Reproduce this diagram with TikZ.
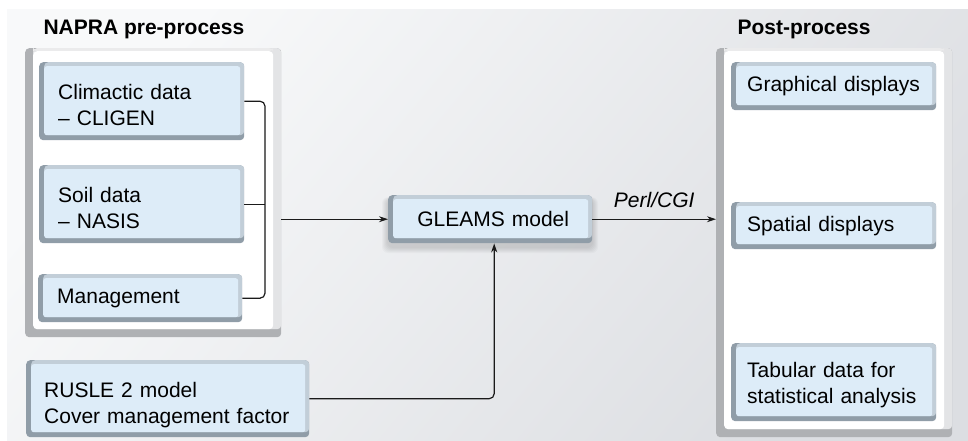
\documentclass[tikz,border=0pt]{standalone}
\usepackage{fontspec}
\setmainfont{Liberation Sans}
\usetikzlibrary{arrows.meta,calc}

\definecolor{boxfill}{HTML}{DDECF8}
\definecolor{bevdark}{HTML}{909DA8}
\definecolor{bevlight}{HTML}{C2CED8}
\definecolor{framedark}{HTML}{AFB1B4}
\definecolor{framelight}{HTML}{E3E4E6}
\definecolor{frametop}{HTML}{EBEBEC}
\definecolor{bgtl}{HTML}{F8F9FA}
\definecolor{bgbr}{HTML}{DCDEE2}
\definecolor{ink}{HTML}{1A1A1A}

% invisible strut that lowers the first text line of a box
\newcommand\leadstrut[1]{\rule{0pt}{#1}}

\tikzset{
  % bevelled light-blue box: dark left/bottom edge, light top/right edge
  bbox/.style={rounded corners=4pt, fill=bevdark, inner ysep=0pt,
    align=left, anchor=north west, text=black,
    font=\fontsize{21}{26}\selectfont,
    path picture={
      \fill[bevlight] ([xshift=5pt]path picture bounding box.north west)
        rectangle ([yshift=5pt]path picture bounding box.south east);
      \fill[boxfill, rounded corners=2.5pt]
        ([xshift=5pt,yshift=-4pt]path picture bounding box.north west)
        rectangle ([xshift=-4pt,yshift=5pt]path picture bounding box.south east);
    }},
  % white panel with a grey frame
  panel/.style={rounded corners=4pt, fill=framedark, inner sep=0pt,
    anchor=north west,
    path picture={
      \fill[framelight] ([xshift=8pt]path picture bounding box.north west)
        rectangle ([yshift=8pt]path picture bounding box.south east);
      \fill[frametop] ([xshift=8pt]path picture bounding box.north west)
        rectangle ([xshift=-8pt,yshift=-3pt]path picture bounding box.north east);
      \fill[white]
        ([xshift=8pt,yshift=-3pt]path picture bounding box.north west)
        rectangle ([xshift=-8pt,yshift=8pt]path picture bounding box.south east);
    }},
  heading/.style={anchor=base west, font=\bfseries\fontsize{21}{25}\selectfont},
  conn/.style={draw=ink, line width=1.2pt},
  arr/.style={conn, -{Stealth[length=9pt,width=6pt]}},
}

\begin{document}
\begin{tikzpicture}[x=1pt,y=-1pt]
  \useasboundingbox (0,0) rectangle (968,441);
  % backdrop
  \shade[shading=axis, top color=bgtl, bottom color=bgbr, shading angle=50]
    (7,10) rectangle (968,441);

  % panels
  \node[panel, minimum width=256pt, minimum height=289pt] (pre) at (25,48) {};
  \node[panel, minimum width=236pt, minimum height=389pt] (post) at (716,48) {};

  \node[heading] (preh) at (40,35) {NAPRA pre-process};
  \node[heading] (posth) at (734,35) {Post-process};

  % pre-process inputs
  \node[bbox, inner xsep=19pt, text width=167pt, minimum width=205pt, minimum height=78pt]
    (clim) at (39,62) {\leadstrut{22pt}Climactic data\\– CLIGEN};
  \node[bbox, inner xsep=19pt, text width=167pt, minimum width=205pt, minimum height=78pt]
    (soil) at (39,165) {\leadstrut{22pt}Soil data\\– NASIS};
  \node[bbox, inner xsep=19pt, text width=166pt, minimum width=204pt, minimum height=48pt]
    (mgmt) at (38,274) {Management};

  \node[bbox, inner xsep=18pt, text width=247pt, minimum width=283pt, minimum height=77pt]
    (rusle) at (26,360) {\leadstrut{28pt}RUSLE 2 model\\Cover management factor};

  % soft shadow under the model box
  \foreach \g in {1,...,6}{
    \fill[black, opacity=0.025, rounded corners=6pt]
      (388-\g,199-\g*0.3) rectangle (592+\g,247+\g);
  }
  \node[bbox, align=center, inner xsep=18pt, text width=168pt, minimum width=204pt, minimum height=48pt]
    (gleams) at (388,195) {\hspace*{6pt}GLEAMS model};

  % post-process outputs
  \node[bbox, inner xsep=16pt, text width=173pt, minimum width=205pt, minimum height=48pt]
    (graph) at (731,62) {Graphical displays};
  \node[bbox, inner xsep=16pt, text width=173pt, minimum width=205pt, minimum height=47pt]
    (spat) at (731,202) {Spatial displays};
  \node[bbox, inner xsep=16pt, text width=173pt, minimum width=205pt, minimum height=78pt]
    (tab) at (731,343) {\leadstrut{21.5pt}Tabular data for\\statistical analysis};

  % bracket joining the inputs
  \coordinate (bx) at (265,0);
  \draw[conn, rounded corners=5pt] (clim.east) -| (bx |- mgmt.east) -- (mgmt.east);
  \draw[conn] (soil.east) -- (bx |- soil.east);

  % flows
  \draw[arr] (pre.east |- gleams.west) -- (gleams.west);
  \draw[arr, rounded corners=5pt] (rusle.east) -| ([xshift=4pt]gleams.south);
  \draw[arr] (gleams.east) -- node[midway, anchor=base, yshift=12pt,
      font=\itshape\fontsize{21}{25}\selectfont] (perl) {Perl/CGI}
    (gleams.east -| post.west);
\end{tikzpicture}
\end{document}
